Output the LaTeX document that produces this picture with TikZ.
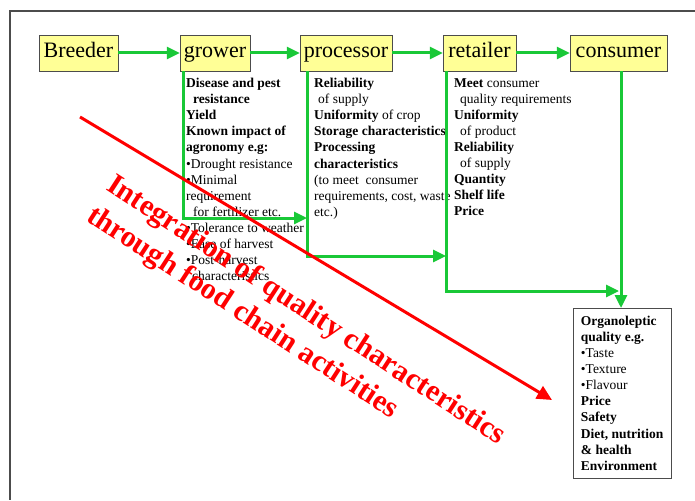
\documentclass[tikz,border=0pt]{standalone}
\usepackage{fontspec}
\setmainfont{Liberation Serif}
\usepackage{tikz}
\usetikzlibrary{arrows.meta}
\definecolor{chaingreen}{RGB}{25,200,55}
\definecolor{stageyellow}{RGB}{255,255,150}
\newcommand{\stagefont}{\fontsize{22}{26}\selectfont}
\newcommand{\listfont}{\fontsize{13.5}{16.1}\selectfont}
\newcommand{\trendfont}{\fontsize{30}{36.5}\selectfont\bfseries}

\begin{document}
\begin{tikzpicture}[
			x=1pt, y=-1pt,
			stage/.style={draw=black!70, fill=stageyellow, font=\stagefont, minimum height=36pt, text height=15pt, text depth=5pt, inner sep=0pt},
			list/.style={font=\listfont, align=left, inner sep=0pt, anchor=north west},
			flow/.style={chaingreen, line width=3pt, -{Triangle[length=13pt,width=12pt]}},
			trend/.style={red, line width=3pt, -{Triangle[length=15pt,width=14pt]}}
		]
		\useasboundingbox (0,0) rectangle (695,500);

		% slide frame
		\draw[black!70, line width=2pt] (695,11) -- (10,11) -- (10,500);

		% stages of the chain
		\node[stage, minimum width=79pt] (breeder) at (78.5,53) {Breeder};
		\node[stage, minimum width=70pt] (grower) at (215,53) {grower};
		\node[stage, minimum width=92pt] (processor) at (346,53) {processor};
		\node[stage, minimum width=73pt] (retailer) at (479.5,53) {retailer};
		\node[stage, minimum width=97pt] (consumer) at (618.5,53) {consumer};

		% what each stage asks for
		\node[list] (growerlist) at (186,78) {\textbf{Disease and pest}\\\hspace*{7pt}\textbf{resistance}\\\textbf{Yield}\\\textbf{Known impact of}\\\textbf{agronomy e.g:}\\•Drought resistance\\•Minimal\\requirement\\\hspace*{7pt}for fertilizer etc.\\•Tolerance to weather\\•Ease of harvest\\•Post-harvest\\\hspace*{6pt}characteristics};
		\node[list] (processorlist) at (314,78) {\textbf{Reliability}\\\hspace*{4pt}of supply\\\textbf{Uniformity} of crop\\\textbf{Storage characteristics}\\\textbf{Processing}\\\textbf{characteristics}\\(to meet\ \ consumer\\requirements, cost, waste\\etc.)};
		\node[list] (retailerlist) at (454,78) {\textbf{Meet} consumer\\\hspace*{6pt}quality requirements\\\textbf{Uniformity}\\\hspace*{6pt}of product\\\textbf{Reliability}\\\hspace*{6pt}of supply\\\textbf{Quantity}\\\textbf{Shelf life}\\\textbf{Price}};
		\node[draw=black!70, font=\listfont, align=left, anchor=north west, minimum width=98pt, minimum height=170pt] (needs) at (573,308) {\textbf{Organoleptic}\\\textbf{quality e.g.}\\•Taste\\•Texture\\•Flavour\\\textbf{Price}\\\textbf{Safety}\\\textbf{Diet, nutrition}\\\textbf{\& health}\\\textbf{Environment}};

		% bends of the green flow
		\coordinate (growerbend) at (183,218);
		\coordinate (processorbend) at (307,256);
		\coordinate (retailerbend) at (446,291);
		\coordinate (consumerbend) at (621,291);

		% green flow
		\draw[flow] (breeder) -- (grower);
		\draw[flow] (grower) -- (processor);
		\draw[flow] (processor) -- (retailer);
		\draw[flow] (retailer) -- (consumer);
		\draw[flow] (grower.south -| growerbend) |- (growerbend -| processorbend);
		\draw[flow] (processor.south -| processorbend) |- (processorbend -| retailerbend);
		\draw[flow] (retailer.south -| retailerbend) |- ([xshift=-2pt]consumerbend);
		\draw[flow] (consumer.south -| consumerbend) -- (needs.north -| consumerbend);

		% red integration arrow
		\coordinate (trendstart) at (80,117);
		\coordinate (trendend) at (552,400);
		\draw[trend] (trendstart) -- (trendend);
		\node[red, font=\trendfont, align=left, inner sep=0pt, anchor=base west, rotate=-33] (trendtext) at (85,220) {Integration of quality characteristics\\through food chain activities};

	\end{tikzpicture}
\end{document}
